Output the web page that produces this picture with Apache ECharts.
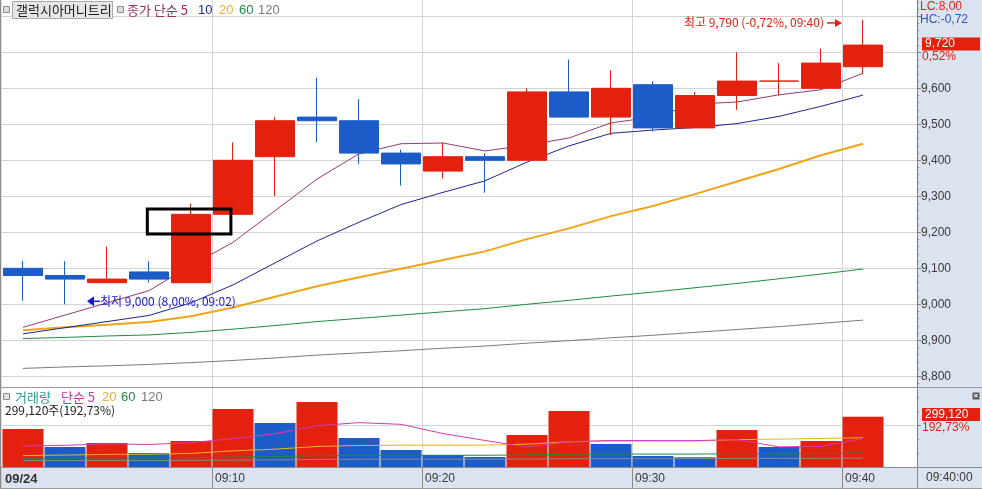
<!DOCTYPE html>
<html><head><meta charset="utf-8">
<script src="https://cdn.jsdelivr.net/npm/echarts@6/dist/echarts.min.js"></script>
<style>html,body{margin:0;padding:0;background:#fff}#c{width:982px;height:489px}</style>
</head><body><div id="c"></div>
<script>
// ---------- data (2-minute candles, 09/24) ----------
const times   = ['09:00','09:02','09:04','09:06','09:08','09:10','09:12','09:14','09:16','09:18','09:20','09:22','09:24','09:26','09:28','09:30','09:32','09:34','09:36','09:38','09:40'];
const opens   = [9100,9080,9060,9090,9060,9250,9410,9520,9510,9420,9370,9410,9400,9590,9520,9610,9490,9580,9620,9600,9660];
const closes  = [9080,9070,9070,9070,9250,9400,9510,9510,9420,9390,9410,9400,9590,9520,9600,9490,9580,9620,9620,9670,9720];
const lows    = [9010,9000,9060,9060,9060,9250,9300,9450,9390,9330,9350,9310,9400,9520,9470,9480,9490,9540,9580,9600,9640];
const highs   = [9120,9120,9160,9120,9280,9450,9520,9630,9570,9430,9450,9420,9600,9680,9650,9620,9590,9700,9670,9710,9790];
const ma5     = [8936,8970,9004,9038,9108,9172,9260,9348,9418,9446,9448,9426,9442,9462,9504,9520,9556,9562,9582,9596,9642];
const ma10    = [8918,8935,8952,8969,9004,9054,9115,9176,9228,9277,9311,9343,9395,9440,9475,9484,9491,9502,9522,9550,9581];
const ma20    = [8928,8936,8943,8951,8967,8991,9021,9050,9075,9099,9123,9147,9181,9211,9245,9273,9306,9341,9376,9414,9446];
const ma60    = [8905,8908,8912,8915,8922,8931,8941,8952,8961,8970,8979,8988,9000,9011,9023,9034,9046,9058,9071,9084,9098];
const ma120   = [8822,8826,8829,8833,8838,8844,8851,8859,8865,8871,8878,8884,8892,8899,8907,8914,8922,8930,8938,8947,8956];
const volumes = [226000,119000,143000,83000,155000,345000,262000,387000,173000,101000,71000,60000,190000,333000,137000,65000,58000,220000,119000,155202,299120];
const volMa5  = [125000,129000,138000,134000,145000,169000,198000,246000,264000,254000,199000,158000,119000,151000,158000,157000,157000,163000,120000,123000,170000];
const volMa20 = [68000,71000,75000,76000,81000,96000,106000,122000,128000,130000,130000,130000,136000,150000,154000,154000,154000,163000,166000,170000,174000];
const volMa60 = [52000,53000,54000,54000,55000,59000,62000,67000,69000,70000,70000,70000,72000,76000,77000,77000,77000,79000,79000,80000,83000];
const volMa120= [38000,38500,39000,39000,39500,41000,42500,45000,46000,46500,46500,46500,47500,49500,50000,50000,50000,51000,51000,51500,53000];
const priceTicks  = [8800,8900,9000,9100,9200,9300,9400,9500,9600,9700,9800];
const priceLabels = [8800,8900,9000,9100,9200,9300,9400,9500,9600];
const timeTickLabels = ['09/24','09:10','09:20','09:30','09:40'];
const timeTickIdx    = [0,5,10,15,20];
const lowInfo  = {idx:1,  price:9000, text:'최저 9,000 (8,00%, 09:02)'};
const highInfo = {idx:20, price:9790, text:'최고 9,790 (-0,72%, 09:40)'};
const highlightBox = {x0:2.96, x1:4.95, y0:9195, y1:9265};

// ---------- styling ----------
const RED='#e4200f', BLUE='#1c5cc8', PANEL='#dae3ef', GRIDC='#d3d3d3', AX='#7d7d7d';
const KFONT="'Noto Sans CJK KR','Liberation Sans',sans-serif";
const NFONT="'Liberation Sans','DejaVu Sans',sans-serif";
const fmt = v => String(Math.round(v)).replace(/\B(?=(\d{3})+(?!\d))/g, ',');
const X_MIN=-0.5, GL=2, GR=65, PX=42;
const X_MAX = X_MIN + (982-GL-GR)/PX;
const minorPrice=[]; for(let v=8780; v<=9840; v+=20){ if(v%100!==0) minorPrice.push(v); }
const volMax = 79*250000/42;
const timeTickPos = timeTickIdx.map(i=>i-0.5);

const xy = arr => arr.map((v,i)=>[i,v]);
const candleData = times.map((t,i)=>[i,opens[i],closes[i],lows[i],highs[i]]);
const volData = volumes.map((v,i)=>({value:[i,v],itemStyle:{color:(i===0||v>=volumes[i-1])?RED:BLUE}}));
const boxData = [[highlightBox.x0,highlightBox.y1],[highlightBox.x1,highlightBox.y1],[highlightBox.x1,highlightBox.y0],[highlightBox.x0,highlightBox.y0],[highlightBox.x0,highlightBox.y1]];

const lineS = (name,data,color,width,x,y,z)=>({name,type:'line',data:xy(data),xAxisIndex:x,yAxisIndex:y,symbol:'none',silent:true,
  lineStyle:{color,width},z:z||3,animation:false});

const chart = echarts.init(document.getElementById('c'),null,{renderer:'canvas'});
const option = {
  animation:false,
  backgroundColor:'#fff',
  grid:[{left:GL,right:GR,top:0,height:387},{left:GL,right:GR,top:388,height:79}],
  xAxis:[
    {type:'value',gridIndex:0,min:X_MIN,max:X_MAX,axisLine:{show:false,onZero:false},
     axisTick:{show:false,customValues:timeTickPos.slice(1)},axisLabel:{show:false},
     splitLine:{show:true,lineStyle:{color:GRIDC,width:1}}},
    {type:'value',gridIndex:1,min:X_MIN,max:X_MAX,axisLine:{show:true,onZero:false,lineStyle:{color:'#8c8c8c'}},
     axisTick:{show:true,customValues:timeTickPos.slice(1),length:22,lineStyle:{color:'#8c8c8c'}},
     axisLabel:{show:true,customValues:timeTickPos,margin:6,align:'left',padding:[0,0,0,3],
       color:'#3a3a3a',fontSize:12,fontFamily:NFONT,
       formatter:v=>{const k=timeTickPos.findIndex(p=>Math.abs(p-v)<1e-6);if(k<0)return '';return k===0?'{b|'+timeTickLabels[k]+'}':timeTickLabels[k];},
       rich:{b:{fontWeight:'bold',fontSize:13,color:'#333',fontFamily:NFONT}}},
     splitLine:{show:true,lineStyle:{color:GRIDC,width:1}}}
  ],
  yAxis:[
    {type:'value',gridIndex:0,position:'right',min:8770.3,max:9845.3,
     axisLine:{show:true,onZero:false,lineStyle:{color:AX}},
     axisTick:{show:true,customValues:priceTicks,length:4,lineStyle:{color:AX}},
     axisLabel:{show:true,customValues:priceLabels,formatter:fmt,color:'#3a3a3a',fontSize:12,fontFamily:NFONT,margin:4},
     splitLine:{show:true,lineStyle:{color:GRIDC,width:1}}},
    {type:'value',gridIndex:0,position:'right',min:8770.3,max:9845.3,
     axisLine:{show:false,onZero:false},axisTick:{show:true,customValues:minorPrice,length:2,lineStyle:{color:AX}},
     axisLabel:{show:false},splitLine:{show:false}},
    {type:'value',gridIndex:1,position:'right',min:0,max:volMax,
     axisLine:{show:true,onZero:false,lineStyle:{color:AX}},
     axisTick:{show:true,customValues:[250000],length:4,lineStyle:{color:AX}},
     axisLabel:{show:false},splitLine:{show:true,lineStyle:{color:GRIDC,width:1}}},
    {type:'value',gridIndex:1,position:'right',min:0,max:volMax,
     axisLine:{show:false,onZero:false},axisTick:{show:true,customValues:[83333,166667,333333,416667],length:2,lineStyle:{color:AX}},
     axisLabel:{show:false},splitLine:{show:false}}
  ],
  series:[
    lineS('MA120',ma120,'#7b7b7b',1,0,0,2),
    lineS('MA60',ma60,'#1e8c44',1,0,0,2),
    lineS('MA20',ma20,'#efa517',2,0,0,2),
    lineS('MA10',ma10,'#1d268c',1,0,0,2),
    lineS('MA5',ma5,'#963a72',1,0,0,2),
    {name:'candle',type:'candlestick',xAxisIndex:0,yAxisIndex:0,data:candleData,
     dimensions:['t','open','close','lowest','highest'],encode:{x:0,y:[1,2,3,4]},
     barWidth:40,silent:true,z:3,
     itemStyle:{color:RED,color0:BLUE,borderColor:RED,borderColor0:BLUE,borderWidth:1}},
    {name:'box',type:'line',xAxisIndex:0,yAxisIndex:0,data:boxData,symbol:'none',silent:true,z:5,
     lineStyle:{color:'#000',width:3,join:'miter',cap:'square'}},
    {name:'vol',type:'bar',xAxisIndex:1,yAxisIndex:2,data:volData,barWidth:41,silent:true,z:2},
    lineS('vMA120',volMa120,'#8a8a8a',1,1,2,3),
    lineS('vMA60',volMa60,'#1e8c44',1,1,2,3),
    lineS('vMA20',volMa20,'#efb21c',1,1,2,3),
    lineS('vMA5',volMa5,'#d23cae',1,1,2,3)
  ]
};
chart.setOption(option);

// ---------- overlay texts / panels ----------
const hp = chart.convertToPixel({xAxisIndex:0,yAxisIndex:0},[highInfo.idx,highInfo.price]);
const lp = chart.convertToPixel({xAxisIndex:0,yAxisIndex:0},[lowInfo.idx,lowInfo.price]);
const txt = (x,y,text,fill,size,opts)=>Object.assign({type:'text',x,y,silent:true,z:20,
  style:Object.assign({text,fill,font:(size||12)+'px '+KFONT,textVerticalAlign:'middle',textAlign:'left'},(opts||{}))});
const rect = (x,y,w,h,fill,stroke,z)=>({type:'rect',shape:{x,y,width:w,height:h},silent:true,z:(z===undefined?20:z),
  style:{fill,stroke:stroke||null,lineWidth:1}});
const line = (x1,y1,x2,y2,color,z,w)=>({type:'line',shape:{x1,y1,x2,y2},silent:true,z:(z===undefined?20:z),style:{stroke:color,lineWidth:w||1}});

const hx = hp[0]-21, hy = hp[1]+3;
const lx = lp[0]+22, ly = lp[1]-3;
const g = [
  rect(917.5,0,65,467,PANEL,null,-10),
  rect(0,467.5,982,22,PANEL,null,-10),
  line(0,387.5,982,387.5,'#9a9a9a',15),
  line(0,467.5,982,467.5,'#8c8c8c',15),
  line(917.5,467,917.5,489,'#8c8c8c',15),
  line(0.5,0,0.5,489,'#8a8a8a',15,1.5),
  line(0,488.5,982,488.5,'#9a9a9a',15),
  rect(3.5,6.5,6,6,'#e0e0e0','#8a8a8a'),
  rect(12.5,1.5,100,17,'#e6e6e6','#a8a8a8'),
  txt(16,10.5,'갤럭시아머니트리','#1a1a1a',13),
  rect(117.5,6.5,6,6,'#e0e0e0','#8a8a8a'),
  txt(127,10.5,'종가 단순 5','#8e2f68',13),
  txt(198,10.5,'10','#1d268c',13,{font:'13px '+NFONT}),
  txt(219,10.5,'20','#e7b23a',13,{font:'13px '+NFONT}),
  txt(239,10.5,'60','#1e8c44',13,{font:'13px '+NFONT}),
  txt(258,10.5,'120','#7b7b7b',13,{font:'13px '+NFONT}),
  rect(3.5,393.5,6,6,'#e0e0e0','#8a8a8a'),
  txt(15,397,'거래량','#2f9a9a',13),
  txt(61,397,'단순 5','#c437a8',13),
  txt(102,397,'20','#e7b23a',13,{font:'13px '+NFONT}),
  txt(121,397,'60','#1e8c44',13,{font:'13px '+NFONT}),
  txt(141,397,'120','#7b7b7b',13,{font:'13px '+NFONT}),
  txt(5,410,'299,120주(192,73%)','#1a1a1a',12),
  txt(920,7,'LC:8,00',RED,12,{font:'12px '+NFONT}),
  txt(920,20,'HC:-0,72','#2a55c0',12,{font:'12px '+NFONT}),
  rect(922,37.5,58,13,RED,null),
  txt(925,44,'9,720','#ffffff',12,{font:'12px '+NFONT}),
  txt(922,57,'0,52%',RED,12,{font:'12px '+NFONT}),
  rect(922,408,58,13,RED,null),
  txt(925,414.5,'299,120','#ffffff',12,{font:'12px '+NFONT}),
  txt(922,428,'192,73%',RED,12,{font:'12px '+NFONT}),
  rect(972.5,392.5,7,7,'#5a5a5a',null),
  txt(973.5,396,'×','#ffffff',8,{font:'bold 8px '+NFONT}),
  txt(926,478,'09:40:00','#3a3a3a',12,{font:'12px '+NFONT}),
  txt(hx-18,hy,highInfo.text,RED,12,{textAlign:'right'}),
  line(hx-15,hy,hx-4,hy,RED,20,1.5),
  {type:'polygon',shape:{points:[[hx,hy],[hx-7,hy-4],[hx-7,hy+4]]},style:{fill:RED},silent:true,z:20},
  {type:'polygon',shape:{points:[[lx,ly],[lx+7,ly-5],[lx+7,ly+5]]},style:{fill:'#1616d8'},silent:true,z:20},
  line(lx+6,ly,lx+13,ly,'#1616d8',20,1.5),
  txt(lx+13,ly,lowInfo.text,'#1616d8',12)
];
chart.setOption({graphic:g});
</script></body></html>
